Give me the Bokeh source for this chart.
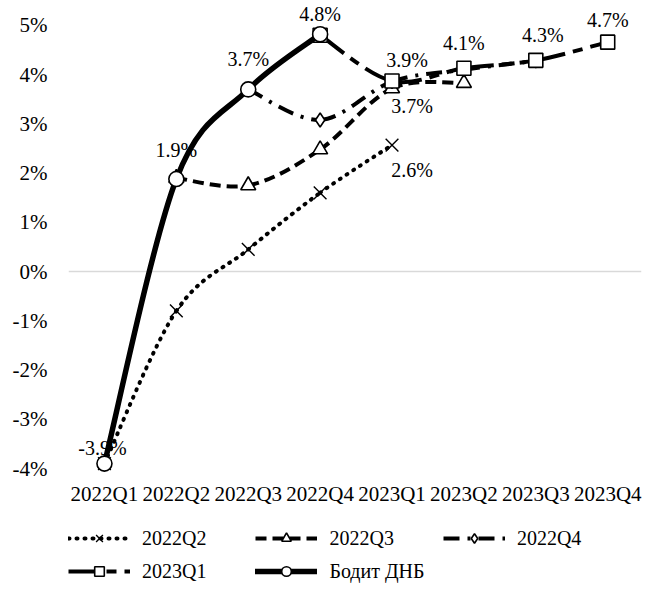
import numpy as np
from bokeh.plotting import figure
from bokeh.layouts import column
from bokeh.models import Range1d, FixedTicker, Span, Legend, LegendItem, ColumnDataSource
from bokeh.core.properties import value
from bokeh.embed import file_html
from bokeh.resources import INLINE

nan = float("nan")

# ---- data ----
categories = ["2022Q1", "2022Q2", "2022Q3", "2022Q4", "2023Q1", "2023Q2", "2023Q3", "2023Q4"]
s_2022q2 = [-3.9, -0.8, 0.45, 1.6, 2.57, nan, nan, nan]
s_2022q3 = [nan, 1.9, 1.75, 2.48, 3.72, 3.83, nan, nan]
s_2022q4 = [nan, nan, 3.7, 3.08, 3.86, 4.1, 4.28, nan]
s_2023q1 = [nan, nan, nan, 4.8, 3.87, 4.13, 4.29, 4.66]
s_actual = [-3.9, 1.88, 3.7, 4.82, nan, nan, nan, nan]
series_names = ["2022Q2", "2022Q3", "2022Q4", "2023Q1", "Бодит ДНБ"]
y_ticks = [-4, -3, -2, -1, 0, 1, 2, 3, 4, 5]
y_tick_labels = ["-4%", "-3%", "-2%", "-1%", "0%", "1%", "2%", "3%", "4%", "5%"]

FONT = "Liberation Serif"
FS = "20px"

p = figure(width=642, height=508, output_backend="svg", toolbar_location=None,
           x_range=Range1d(-0.5, 7.47), y_range=Range1d(-4.081, 5.506),
           min_border_left=68, min_border_right=1, min_border_top=0, min_border_bottom=34)
p.outline_line_color = None
p.xgrid.visible = False
p.ygrid.visible = False
p.background_fill_color = "white"
p.border_fill_color = "white"

for ax in (p.xaxis[0], p.yaxis[0]):
    ax.axis_line_color = None
    ax.major_tick_line_color = None
    ax.minor_tick_line_color = None
    ax.major_tick_out = 0
    ax.major_tick_in = 0
    ax.major_label_text_font = FONT
    ax.major_label_text_font_size = "21px"
    ax.major_label_text_color = "black"

p.xaxis.ticker = FixedTicker(ticks=list(range(len(categories))))
p.xaxis.major_label_overrides = {i: c for i, c in enumerate(categories)}
p.xaxis.major_label_standoff = 9
p.yaxis.ticker = FixedTicker(ticks=y_ticks)
p.yaxis.major_label_overrides = {t: l for t, l in zip(y_ticks, y_tick_labels)}
p.yaxis.major_label_standoff = 21

p.add_layout(Span(location=0, dimension="width", line_color="#d9d9d9", line_width=1.5, level="underlay"))

# ---- data labels (drawn beneath the lines, as in the reference) ----
label_specs = [  # (series, category index, x offset px, y offset px)
    (s_actual, 0, -2, -16),
    (s_actual, 1, 0, -29),
    (s_actual, 2, 0, -30),
    (s_actual, 3, 0, -20),
    (s_2023q1, 4, 15, -21),
    (s_2022q3, 4, 20, 18),
    (s_2022q2, 4, 20, 25),
    (s_2023q1, 5, 0, -25),
    (s_2023q1, 6, 7, -25),
    (s_2023q1, 7, 0, -22),
]
lab_src = ColumnDataSource(dict(
    x=[i for _, i, _, _ in label_specs],
    y=[s[i] for s, i, _, _ in label_specs],
    text=[f"{s[i]:.1f}%" for s, i, _, _ in label_specs],
    dx=[dx for _, _, dx, _ in label_specs],
    dy=[dy for _, _, _, dy in label_specs],
))
p.text(x="x", y="y", text="text", x_offset="dx", y_offset="dy", source=lab_src,
       text_font=value(FONT), text_font_size=FS, text_color="black",
       text_align="center", text_baseline="middle")


def smooth(vals):
    idx = [i for i, v in enumerate(vals) if not np.isnan(v)]
    xs = np.array(idx, dtype=float)
    ys = np.array([vals[i] for i in idx], dtype=float)
    n = len(xs)
    xp = np.concatenate([[xs[0]], xs, [xs[-1]]])
    yp = np.concatenate([[ys[0]], ys, [ys[-1]]])
    return dict(
        x0=xs[:-1], y0=ys[:-1], x1=xs[1:], y1=ys[1:],
        cx0=xp[1:n] + (xp[2:n + 1] - xp[0:n - 1]) / 6.0,
        cy0=yp[1:n] + (yp[2:n + 1] - yp[0:n - 1]) / 6.0,
        cx1=xp[2:n + 1] - (xp[3:n + 2] - xp[1:n]) / 6.0,
        cy1=yp[2:n + 1] - (yp[3:n + 2] - yp[1:n]) / 6.0,
    ), xs, ys


styles = [
    dict(dash="1 7", width=4, cap="round", marker="x", size=18, mlw=1.4),
    dict(dash="11 6", width=4, cap="butt", marker="triangle", size=15, mlw=1.6),
    dict(dash="16 8 3 8", width=4, cap="butt", marker="diamond", size=14, mlw=1.6),
    dict(dash="30 8 10 8", width=4, cap="butt", marker="square", size=14, mlw=1.6),
    dict(dash="solid", width=5.5, cap="round", marker="circle", size=15, mlw=1.6),
]
all_series = [s_2022q2, s_2022q3, s_2022q4, s_2023q1, s_actual]

for name, vals, st in zip(series_names, all_series, styles):
    seg, xs, ys = smooth(vals)
    p.bezier(source=ColumnDataSource(seg), x0="x0", y0="y0", x1="x1", y1="y1",
             cx0="cx0", cy0="cy0", cx1="cx1", cy1="cy1",
             line_color="black", line_width=st["width"], line_dash=st["dash"],
             line_cap=st["cap"], line_join="round")
    p.scatter(x=xs, y=ys, marker=st["marker"], size=st["size"],
              fill_color="white", line_color="black", line_width=st["mlw"])

# ---- legend strip (separate figure below the chart) ----
q = figure(width=642, height=75, output_backend="svg", toolbar_location=None,
           x_range=Range1d(0, 1), y_range=Range1d(0, 1),
           x_axis_type=None, y_axis_type=None,
           min_border_left=0, min_border_right=0, min_border_top=0, min_border_bottom=0)
q.outline_line_color = None
q.xgrid.visible = False
q.ygrid.visible = False

legend_items = []
for name, st in zip(series_names, styles):
    lr = q.line(x=[nan], y=[nan], line_color="black", line_width=st["width"],
                line_dash=st["dash"], line_cap=st["cap"])
    mr = q.scatter(x=[nan], y=[nan], marker=st["marker"], size=st["size"],
                   fill_color="white", line_color="black", line_width=st["mlw"])
    legend_items.append(LegendItem(label=name, renderers=[lr, mr]))


def make_legend(items, loc):
    lg = Legend(items=items, orientation="horizontal", location=loc)
    lg.border_line_color = None
    lg.background_fill_alpha = 0
    lg.padding = 0
    lg.margin = 0
    lg.spacing = 49
    lg.glyph_width = 62
    lg.glyph_height = 24
    lg.label_height = 20
    lg.label_standoff = 12
    lg.label_text_font = FONT
    lg.label_text_font_size = FS
    lg.label_text_color = "black"
    return lg


q.add_layout(make_legend(legend_items[:3], (0, 33)))
q.add_layout(make_legend(legend_items[3:], (0, 0)))

layout = column(p, q, spacing=0)
open("out.html", "w").write(file_html(layout, INLINE))
